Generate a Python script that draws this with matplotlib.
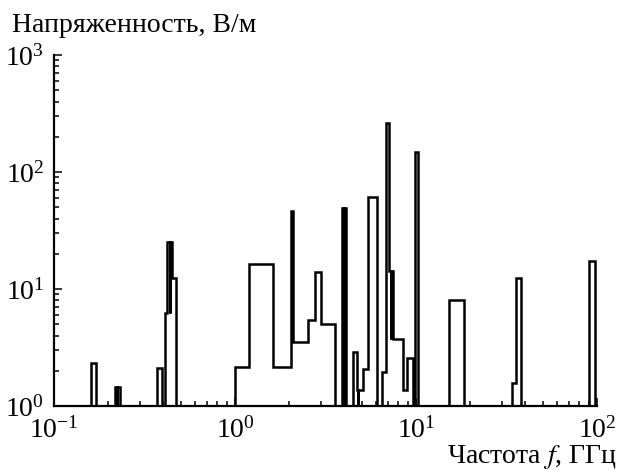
import matplotlib
matplotlib.use("Agg")
import matplotlib.pyplot as plt
import matplotlib.ticker as ticker

plt.rcParams["font.family"] = ["Liberation Serif", "DejaVu Serif"]
plt.rcParams["mathtext.fontset"] = "stix"

# spectrum bins: edges in GHz, field strength in V/m for each bin
freq_edges = [
    0.1, 0.1595, 0.1706, 0.217, 0.2215, 0.2225, 0.2317,
    0.369, 0.397, 0.41, 0.4227, 0.436, 0.437, 0.45, 0.47,
    1.0, 1.195, 1.62, 2.03, 2.1, 2.53, 2.77, 2.99, 3.58,
    3.89, 3.99, 4.0, 4.1, 4.47, 4.70, 4.77, 4.79, 5.08, 5.45, 6.06,
    6.52, 6.83, 7.12, 7.30, 7.32, 7.49, 8.51, 8.88, 9.67, 9.87, 10.3,
    15.2, 18.5, 33.8, 35.5, 38.0, 90.6, 97.1, 100.0,
]
field = [
    1.0, 2.33, 1.0, 1.44, 1.0, 1.44,
    1.0, 2.1, 1.0, 6.2, 25.4, 6.2, 25.4, 12.3,
    1.0, 2.17, 16.3, 2.14, 46.7, 3.55, 5.4, 14.06, 4.99,
    1.0, 49.5, 1.0, 49.5, 1.0, 2.91, 1.37, 1.0, 1.37, 2.06, 60.6,
    1.0, 1.96, 264.0, 14.3, 3.71, 14.3, 3.71, 1.37, 2.59, 1.0, 147.0,
    1.0, 8.05, 1.0, 1.58, 12.5, 1.0, 17.5, 1.0,
]

fig = plt.figure(figsize=(6.18, 4.74), dpi=100)
ax = fig.add_axes([0.0874, 0.1435, 0.8786, 0.7405])

ax.stairs(field, freq_edges, baseline=1.0, color="black", lw=1.8)

ax.set_xscale("log")
ax.set_yscale("log")
ax.set_xlim(0.1, 100)
ax.set_ylim(1, 1000)

for side in ("top", "right"):
    ax.spines[side].set_visible(False)
for side in ("left", "bottom"):
    ax.spines[side].set_linewidth(1.6)

ax.xaxis.set_major_formatter(ticker.LogFormatterMathtext())
ax.yaxis.set_major_formatter(ticker.LogFormatterMathtext())
ax.xaxis.set_minor_formatter(ticker.NullFormatter())
ax.yaxis.set_minor_formatter(ticker.NullFormatter())
ax.tick_params(which="both", direction="in", top=False, right=False,
               labelsize=20, width=1.1)
ax.tick_params(which="major", length=6)
ax.tick_params(which="minor", length=3.5)
ax.tick_params(axis="x", pad=8)
ax.tick_params(axis="y", pad=7)

fig.text(12 / 618, 1 - 32 / 474, "Напряженность, В/м", fontsize=20,
         ha="left", va="baseline")
fig.text(617 / 618, 1 - 463 / 474, "Частота $f$, ГГц", fontsize=20,
         ha="right", va="baseline")

fig.savefig("out.png", dpi=100)
